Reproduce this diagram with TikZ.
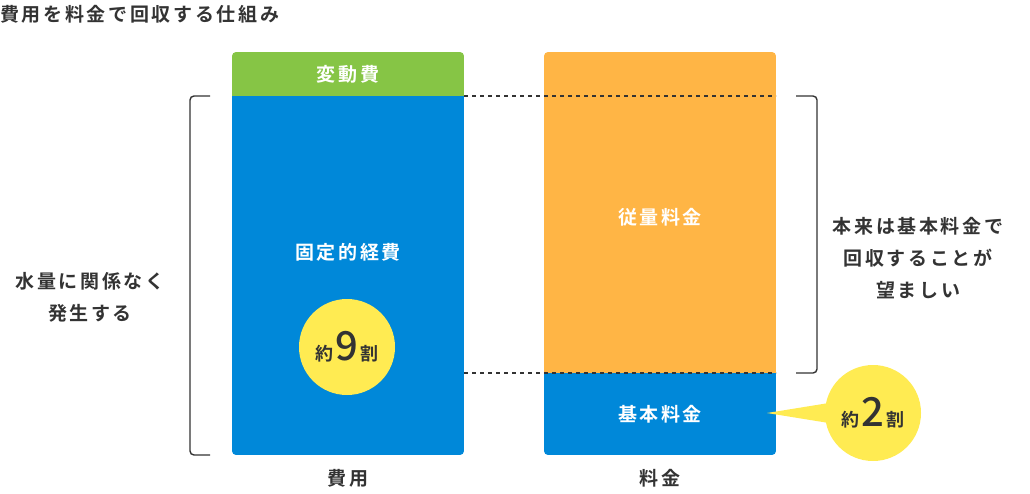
\documentclass[tikz,border=0pt]{standalone}
\usepackage{fontspec}
\setmainfont{Noto Sans CJK JP}[BoldFont=* Bold,LetterSpace=14]
\newfontfamily\numfont{Noto Sans CJK JP Medium}
\definecolor{cblue}{HTML}{0088D9}
\definecolor{cgreen}{HTML}{86C545}
\definecolor{corange}{HTML}{FFB545}
\definecolor{cyel}{HTML}{FFEB52}
\definecolor{ctxt}{HTML}{333333}
\tikzset{
  lbl/.style={text=white,font=\bfseries\fontsize{19}{22}\selectfont},
  dtxt/.style={text=ctxt,font=\bfseries\fontsize{19}{32}\selectfont,align=center},
  circ/.style={circle,fill=cyel,minimum size=96pt,inner sep=0pt,text=ctxt},
  brk/.style={draw=ctxt,line width=1.4pt,rounded corners=4pt},
  dsh/.style={draw=ctxt,line width=1.2pt,dash pattern=on 4pt off 4pt}
}
\newcommand{\wari}[1]{{\bfseries\fontsize{18}{18}\selectfont 約}\,{\numfont\fontsize{40}{40}\selectfont #1}\,{\bfseries\fontsize{18}{18}\selectfont 割}}
\begin{document}
\begin{tikzpicture}[x=1pt,y=-1pt]
\useasboundingbox (0,0) rectangle (1030,493);
\begin{scope}
\clip[rounded corners=4pt] (232,52) rectangle (464,455);
\fill[cgreen] (232,52) rectangle (464,96);
\fill[cblue] (232,96) rectangle (464,455);
\end{scope}
\begin{scope}
\clip[rounded corners=4pt] (544,52) rectangle (776,455);
\fill[corange] (544,52) rectangle (776,373);
\fill[cblue] (544,373) rectangle (776,455);
\end{scope}
\coordinate (d1) at (464,96); \coordinate (d2) at (776,96);
\coordinate (d3) at (464,373); \coordinate (d4) at (776,373);
\draw[dsh] (d1) -- (d2);
\draw[dsh] (d3) -- (d4);
\draw[brk] (210,96) -- (190,96) -- (190,455) -- (210,455);
\draw[brk] (796,96) -- (817,96) -- (817,373) -- (796,373);
\node[anchor=west,dtxt,inner sep=0pt] (title) at (0,14) {費用を料金で回収する仕組み};
\node[lbl] (hen) at (348,74) {変動費};
\node[lbl] (kotei) at (348,252) {固定的経費};
\node[lbl] (juryo) at (660,217) {従量料金};
\node[lbl] (kihon) at (660,414) {基本料金};
\node[dtxt] (hiyo) at (348,478) {費用};
\node[dtxt] (ryokin) at (660,478) {料金};
\node[dtxt] (left) at (90,297) {水量に関係なく\\発生する};
\node[dtxt] (right) at (918,258) {本来は基本料金で\\回収することが\\望ましい};
\node[circ] (c9) at (347,347) {\wari{9}};
\coordinate (tip) at (767,413);
\fill[cyel] (tip) -- (835,402) -- (835,424) -- cycle;
\node[circ] (c2) at (873,413) {\wari{2}};
\end{tikzpicture}
\end{document}
